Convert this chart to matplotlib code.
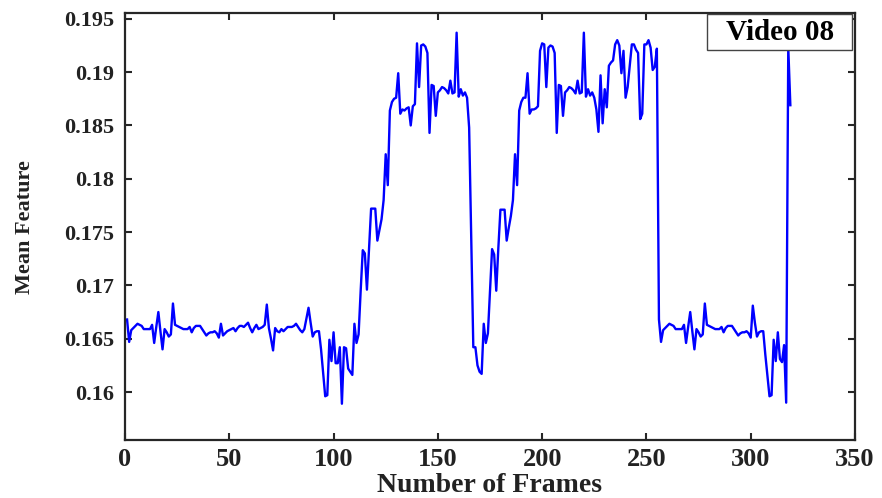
import numpy as np
import matplotlib
matplotlib.use("Agg")
import matplotlib.pyplot as plt
from matplotlib.patches import Rectangle

# mean feature per frame (frames 1..319)
frames_001_050 = [0.1668, 0.1647, 0.1658, 0.1660, 0.1662, 0.1664, 0.1663, 0.1662, 0.1659, 0.1659,
                  0.1659, 0.1659, 0.1663, 0.1646, 0.1661, 0.1675, 0.1657, 0.1640, 0.1659, 0.1656,
                  0.1652, 0.1654, 0.1683, 0.1663, 0.1662, 0.1661, 0.1660, 0.1659, 0.1659, 0.1659,
                  0.1661, 0.1656, 0.1660, 0.1662, 0.1662, 0.1662, 0.1659, 0.1656, 0.1653, 0.1655,
                  0.1656, 0.1656, 0.1657, 0.1655, 0.1651, 0.1664, 0.1653, 0.1655, 0.1657, 0.1658]
frames_051_100 = [0.1659, 0.1660, 0.1657, 0.1660, 0.1662, 0.1662, 0.1661, 0.1663, 0.1665, 0.1660,
                  0.1656, 0.1660, 0.1663, 0.1659, 0.1660, 0.1661, 0.1663, 0.1682, 0.1660, 0.1650,
                  0.1639, 0.1660, 0.1657, 0.1656, 0.1659, 0.1657, 0.1659, 0.1661, 0.1661, 0.1661,
                  0.1662, 0.1664, 0.1661, 0.1658, 0.1656, 0.1659, 0.1669, 0.1679, 0.1665, 0.1652,
                  0.1656, 0.1657, 0.1657, 0.1640, 0.1618, 0.1596, 0.1597, 0.1649, 0.1629, 0.1656]
frames_101_150 = [0.1627, 0.1627, 0.1642, 0.1589, 0.1642, 0.1641, 0.1622, 0.1619, 0.1616, 0.1664,
                  0.1646, 0.1654, 0.1695, 0.1733, 0.1730, 0.1696, 0.1735, 0.1772, 0.1772, 0.1772,
                  0.1742, 0.1752, 0.1762, 0.1780, 0.1823, 0.1794, 0.1864, 0.1872, 0.1875, 0.1876,
                  0.1899, 0.1861, 0.1865, 0.1864, 0.1866, 0.1867, 0.1850, 0.1868, 0.1870, 0.1927,
                  0.1886, 0.1925, 0.1926, 0.1924, 0.1918, 0.1843, 0.1888, 0.1887, 0.1859, 0.1881]
frames_151_200 = [0.1883, 0.1886, 0.1885, 0.1883, 0.1880, 0.1892, 0.1880, 0.1881, 0.1937, 0.1877,
                  0.1884, 0.1878, 0.1881, 0.1876, 0.1848, 0.1745, 0.1642, 0.1642, 0.1625, 0.1619,
                  0.1617, 0.1664, 0.1646, 0.1655, 0.1695, 0.1734, 0.1729, 0.1695, 0.1735, 0.1771,
                  0.1771, 0.1771, 0.1742, 0.1754, 0.1765, 0.1780, 0.1823, 0.1794, 0.1864, 0.1872,
                  0.1876, 0.1876, 0.1899, 0.1861, 0.1865, 0.1865, 0.1866, 0.1868, 0.1920, 0.1927]
frames_201_250 = [0.1926, 0.1886, 0.1923, 0.1925, 0.1924, 0.1918, 0.1843, 0.1888, 0.1887, 0.1859,
                  0.1881, 0.1883, 0.1886, 0.1885, 0.1883, 0.1880, 0.1892, 0.1880, 0.1881, 0.1937,
                  0.1877, 0.1884, 0.1878, 0.1881, 0.1876, 0.1865, 0.1844, 0.1897, 0.1852, 0.1884,
                  0.1867, 0.1906, 0.1909, 0.1911, 0.1926, 0.1930, 0.1925, 0.1899, 0.1920, 0.1876,
                  0.1886, 0.1906, 0.1926, 0.1926, 0.1921, 0.1918, 0.1856, 0.1861, 0.1926, 0.1926]
frames_251_300 = [0.1930, 0.1923, 0.1902, 0.1905, 0.1922, 0.1668, 0.1647, 0.1658, 0.1660, 0.1662,
                  0.1664, 0.1663, 0.1662, 0.1659, 0.1659, 0.1659, 0.1659, 0.1663, 0.1646, 0.1661,
                  0.1675, 0.1657, 0.1640, 0.1659, 0.1656, 0.1652, 0.1654, 0.1683, 0.1663, 0.1662,
                  0.1661, 0.1660, 0.1659, 0.1659, 0.1659, 0.1661, 0.1656, 0.1660, 0.1662, 0.1662,
                  0.1662, 0.1659, 0.1656, 0.1653, 0.1655, 0.1656, 0.1656, 0.1657, 0.1655, 0.1651]
frames_301_319 = [0.1681, 0.1665, 0.1652, 0.1656, 0.1657, 0.1657, 0.1635, 0.1615, 0.1596, 0.1597,
                  0.1649, 0.1629, 0.1656, 0.1631, 0.1628, 0.1644, 0.1590, 0.1923, 0.1869]

x_ticks = [0, 50, 100, 150, 200, 250, 300, 350]
y_ticks = [0.16, 0.165, 0.17, 0.175, 0.18, 0.185, 0.19, 0.195]
y_tick_labels = ['0.16', '0.165', '0.17', '0.175', '0.18', '0.185', '0.19', '0.195']

mean_feature = np.array(frames_001_050 + frames_051_100 + frames_101_150 + frames_151_200
                        + frames_201_250 + frames_251_300 + frames_301_319)
frame_no = np.arange(1, len(mean_feature) + 1)

plt.rcParams['font.family'] = ['Liberation Serif', 'DejaVu Serif']
plt.rcParams['font.weight'] = 'bold'

fig = plt.figure(figsize=(8.82, 4.98), dpi=100)
ax = fig.add_axes([0.1417, 0.1165, 0.8277, 0.8564])

ax.plot(frame_no, mean_feature, color=(0, 0, 1), lw=1.7)

ax.set_xlim(0, 350)
ax.set_ylim(0.1555, 0.1955)
ax.set_xticks(x_ticks)
ax.set_yticks(y_ticks)
ax.set_yticklabels(y_tick_labels)

for s in ax.spines.values():
    s.set_linewidth(1.6)
    s.set_color('#262626')
ax.tick_params(direction='in', top=True, right=True, length=5, width=1.5,
               color='#262626')
ax.tick_params(axis='x', pad=6, labelsize=19)
ax.tick_params(axis='y', pad=8, labelsize=16)
for lab in ax.get_xticklabels() + ax.get_yticklabels():
    lab.set_fontweight('bold')
    lab.set_color('#222222')

ax.set_xlabel('Number of Frames', fontsize=20, fontweight='bold', color='#222222', labelpad=1)
ax.set_ylabel('Mean Feature', fontsize=16, fontweight='bold', color='#222222', labelpad=21)

# "Video 08" box in the upper right corner
ax.add_patch(Rectangle((0.797, 0.914), 0.199, 0.085, transform=ax.transAxes,
                       facecolor='white', edgecolor='#444444', lw=1.0, zorder=5))
ax.text(0.8968, 0.9566, 'Video 08', transform=ax.transAxes, ha='center', va='center',
        fontsize=21, fontweight='bold', color='black', zorder=6)

fig.savefig('out.png', dpi=100)
